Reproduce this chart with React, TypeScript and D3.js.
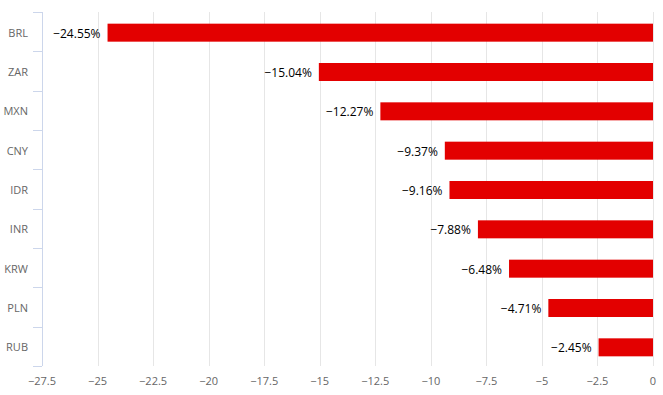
import { useEffect, useRef } from 'react';
import * as d3 from 'd3';

// currency moves, % change
const currencies = ['BRL', 'ZAR', 'MXN', 'CNY', 'IDR', 'INR', 'KRW', 'PLN', 'RUB'];
const changes = [-24.55, -15.04, -12.27, -9.37, -9.16, -7.88, -6.48, -4.71, -2.45];
const xTicks = [-27.5, -25, -22.5, -20, -17.5, -15, -12.5, -10, -7.5, -5, -2.5, 0];

const W = 663;
const H = 395;
const fmt = (v: number) => (v < 0 ? '\u2212' : '') + Math.abs(v).toString();

export default function App() {
    const svgRef = useRef<SVGSVGElement>(null);

    useEffect(() => {
        if (!svgRef.current) return;
        const svg = d3.select(svgRef.current);
        svg.selectAll('*').remove();

        const left = 42, right = 653, top = 12, bottom = 366;
        const font = '"Open Sans", "DejaVu Sans", sans-serif';

        const x = d3.scaleLinear().domain([-27.5, 0]).range([left, right]);
        const y = d3.scaleBand<string>().domain(currencies).range([top, bottom]).paddingInner(0).paddingOuter(0);

        // grid
        svg.append('g')
            .selectAll('line')
            .data(xTicks)
            .join('line')
            .attr('x1', d => Math.round(x(d)) + 0.5)
            .attr('x2', d => Math.round(x(d)) + 0.5)
            .attr('y1', top)
            .attr('y2', bottom)
            .attr('stroke', '#e6e6e6')
            .attr('stroke-width', 1);

        // x labels
        svg.append('g')
            .selectAll('text')
            .data(xTicks)
            .join('text')
            .attr('x', d => x(d))
            .attr('y', 385)
            .attr('text-anchor', 'middle')
            .attr('font-family', font)
            .attr('font-size', 11)
            .attr('fill', '#666666')
            .text(d => fmt(d));

        // category axis
        svg.append('line')
            .attr('x1', left + 0.5).attr('x2', left + 0.5)
            .attr('y1', top).attr('y2', bottom)
            .attr('stroke', '#ccd6eb');

        const bounds = currencies.map(c => y(c)!).concat([bottom]);
        svg.append('g')
            .selectAll('line')
            .data(bounds)
            .join('line')
            .attr('x1', left - 9)
            .attr('x2', left)
            .attr('y1', d => Math.round(d) + 0.5)
            .attr('y2', d => Math.round(d) + 0.5)
            .attr('stroke', '#ccd6eb');

        svg.append('g')
            .selectAll('text')
            .data(currencies)
            .join('text')
            .attr('x', 28)
            .attr('y', d => y(d)! + y.bandwidth() / 2 + 5)
            .attr('text-anchor', 'end')
            .attr('font-family', font)
            .attr('font-size', 11)
            .attr('fill', '#666666')
            .text(d => d);

        // bars
        const barH = 18;
        const data = currencies.map((c, i) => ({ c, v: changes[i] }));
        svg.append('g')
            .selectAll('rect')
            .data(data)
            .join('rect')
            .attr('x', d => x(d.v))
            .attr('y', d => y(d.c)! + y.bandwidth() / 2 - barH / 2 + 1)
            .attr('width', d => x(0) - x(d.v))
            .attr('height', barH)
            .attr('fill', '#e30000');

        svg.append('g')
            .selectAll('text')
            .data(data)
            .join('text')
            .attr('x', d => x(d.v) - 7)
            .attr('y', d => y(d.c)! + y.bandwidth() / 2 + 6)
            .attr('text-anchor', 'end')
            .attr('font-family', font)
            .attr('font-size', 12)
            .attr('fill', '#000000')
            .text(d => fmt(d.v) + '%');
    }, []);

    return (
        <svg
            ref={svgRef}
            width={W}
            height={H}
            style={{ position: 'absolute', left: 0, top: 0, background: '#ffffff' }}
        />
    );
}
